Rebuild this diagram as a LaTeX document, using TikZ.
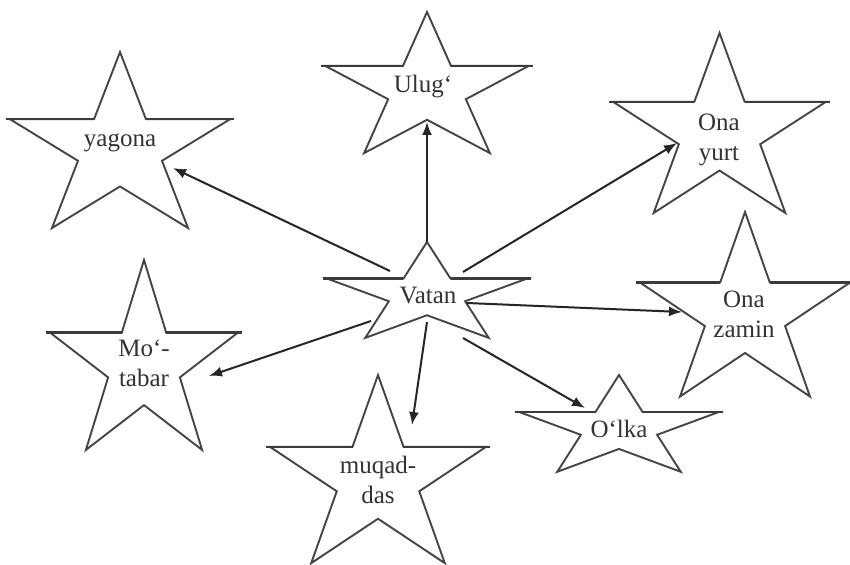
\documentclass[tikz,border=0pt]{standalone}
\usepackage{fontspec}
\setmainfont{Liberation Serif}
\usetikzlibrary{arrows.meta}
\definecolor{starcol}{HTML}{454545}
\definecolor{txtcol}{HTML}{333333}
\definecolor{arrcol}{HTML}{262626}
\tikzset{
  starline/.style={draw=starcol, line width=1.9pt, line join=miter},
  armline/.style={draw=starcol!85!black, line width=2.4pt},
  lbl/.style={inner sep=0pt, text=txtcol, font=\fontsize{25}{30}\selectfont, align=center},
  conn/.style={draw=arrcol, line width=2pt, -{Latex[length=13pt,width=10pt]}}
}
% #1 name, #2 cx, #3 cy, #4 Rx, #5 Ry  (y grows downwards)
\newcommand{\mystar}[5]{%
  \coordinate (#1-t)  at (#2,{#3-#5});
  \coordinate (#1-i1) at ({#2+0.2245*#4},{#3-0.309*#5});
  \coordinate (#1-o1) at ({#2+0.951*#4},{#3-0.309*#5});
  \coordinate (#1-i2) at ({#2+0.363*#4},{#3+0.118*#5});
  \coordinate (#1-o2) at ({#2+0.588*#4},{#3+0.809*#5});
  \coordinate (#1-i3) at (#2,{#3+0.382*#5});
  \coordinate (#1-o3) at ({#2-0.588*#4},{#3+0.809*#5});
  \coordinate (#1-i4) at ({#2-0.363*#4},{#3+0.118*#5});
  \coordinate (#1-o4) at ({#2-0.951*#4},{#3-0.309*#5});
  \coordinate (#1-i5) at ({#2-0.2245*#4},{#3-0.309*#5});
  \path[starline] (#1-t) -- (#1-i1) -- (#1-o1) -- (#1-i2) -- (#1-o2) -- (#1-i3) -- (#1-o3) -- (#1-i4) -- (#1-o4) -- (#1-i5) -- cycle;
  \path[armline] ([xshift=-4pt]#1-o4) -- (#1-i5) (#1-i1) -- ([xshift=4pt]#1-o1);
}
\begin{document}
\begin{tikzpicture}[x=1pt,y=-1pt]
\useasboundingbox (0,0) rectangle (850,564);
\fill[white] (0,0) rectangle (850,564);

% stars
\mystar{ya}{120}{149.3}{115.7}{97.3}
\mystar{ul}{427}{90}{107}{78}
\mystar{oy}{719.5}{132.5}{112}{99.5}
\mystar{va}{427}{295}{105}{53}
\mystar{mo}{144}{365}{98.8}{105}
\mystar{oz}{745}{314}{110.5}{102}
\mystar{mu}{378}{479}{113.6}{104}
\mystar{ol}{619}{428.5}{105}{53.5}

% labels
\node[lbl, anchor=base] (yagona) at (120,147) {yagona};
\node[lbl, anchor=base] (ulug) at (423,93) {Ulug‘};
\node[lbl, anchor=base] (vatan) at (428,303) {Vatan};
\node[lbl] (onayurt) at (719,140) {Ona\\yurt};
\node[lbl] (motabar) at (144,363) {Mo‘-\\tabar};
\node[lbl] (onazamin) at (744,314) {Ona\\zamin};
\node[lbl] (muqaddas) at (378,480) {muqad-\\das};
\node[lbl, anchor=base] (olka) at (619,437) {O‘lka};

% connector ends
\coordinate (s-ya) at (390,271); \coordinate (e-ya) at (173,168);
\coordinate (e-ul) at (427,122);
\coordinate (s-oy) at (463,272); \coordinate (e-oy) at (677,143);
\coordinate (s-oz) at (467,303); \coordinate (e-oz) at (682,312);
\coordinate (s-ol) at (463,338); \coordinate (e-ol) at (585,408);
\coordinate (s-mu) at (427,322); \coordinate (e-mu) at (412,425);
\coordinate (s-mo) at (371,321); \coordinate (e-mo) at (209,376);

% connectors
\draw[conn] (s-ya) -- (e-ya);
\draw[conn] (va-t) -- (e-ul);
\draw[conn] (s-oy) -- (e-oy);
\draw[conn] (s-oz) -- (e-oz);
\draw[conn] (s-ol) -- (e-ol);
\draw[conn] (s-mu) -- (e-mu);
\draw[conn] (s-mo) -- (e-mo);
\end{tikzpicture}
\end{document}
